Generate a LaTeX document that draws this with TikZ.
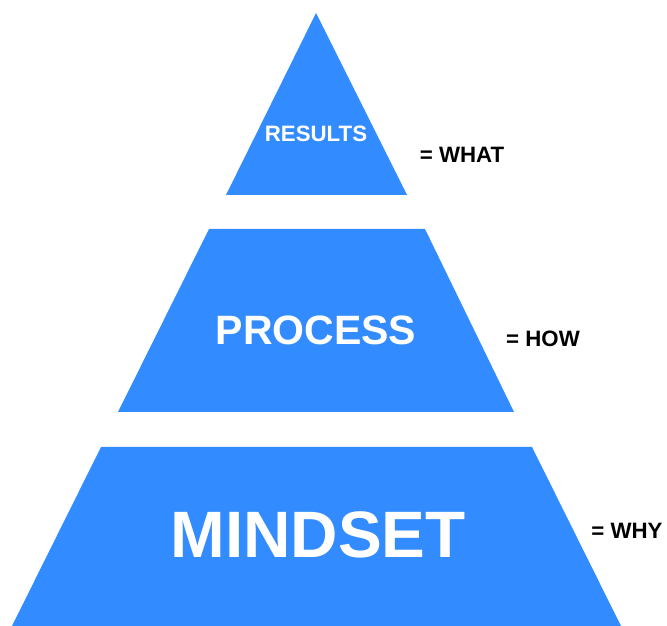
\documentclass[tikz,border=0pt]{standalone}
\usepackage{fontspec}
\setmainfont{Liberation Sans}
\definecolor{pyrblue}{HTML}{338CFF}
\tikzset{
    level/.style={fill=pyrblue},
    leveltext/.style={text=white, font=\bfseries, inner sep=0pt},
    meaning/.style={text=black, font=\bfseries\fontsize{19}{19}\selectfont, inner sep=0pt}
}
\begin{document}
\begin{tikzpicture}[x=0.03cm, y=-0.03cm]
    \useasboundingbox (0,0) rectangle (667,626);
    % the three levels, top to bottom
    \fill[level] (316,13) -- (407,195) -- (226,195) -- cycle;
    \fill[level] (209,229) -- (425,229) -- (514,412) -- (118,412) -- cycle;
    \fill[level] (101,447) -- (532,447) -- (621,626) -- (12,626) -- cycle;
    \node[leveltext, font=\bfseries\fontsize{19}{19}\selectfont] (results) at (316,133.5) {RESULTS};
    \node[leveltext, font=\bfseries\fontsize{35}{35}\selectfont] (process) at (316,330) {PROCESS};
    \node[leveltext, font=\bfseries\fontsize{56}{56}\selectfont] (mindset) at (318,534.5) {MINDSET};
    \node[meaning] (what) at (462,154.5) {= WHAT};
    \node[meaning] (how) at (543,339) {= HOW};
    \node[meaning] (why) at (627,531) {= WHY};
\end{tikzpicture}
\end{document}
